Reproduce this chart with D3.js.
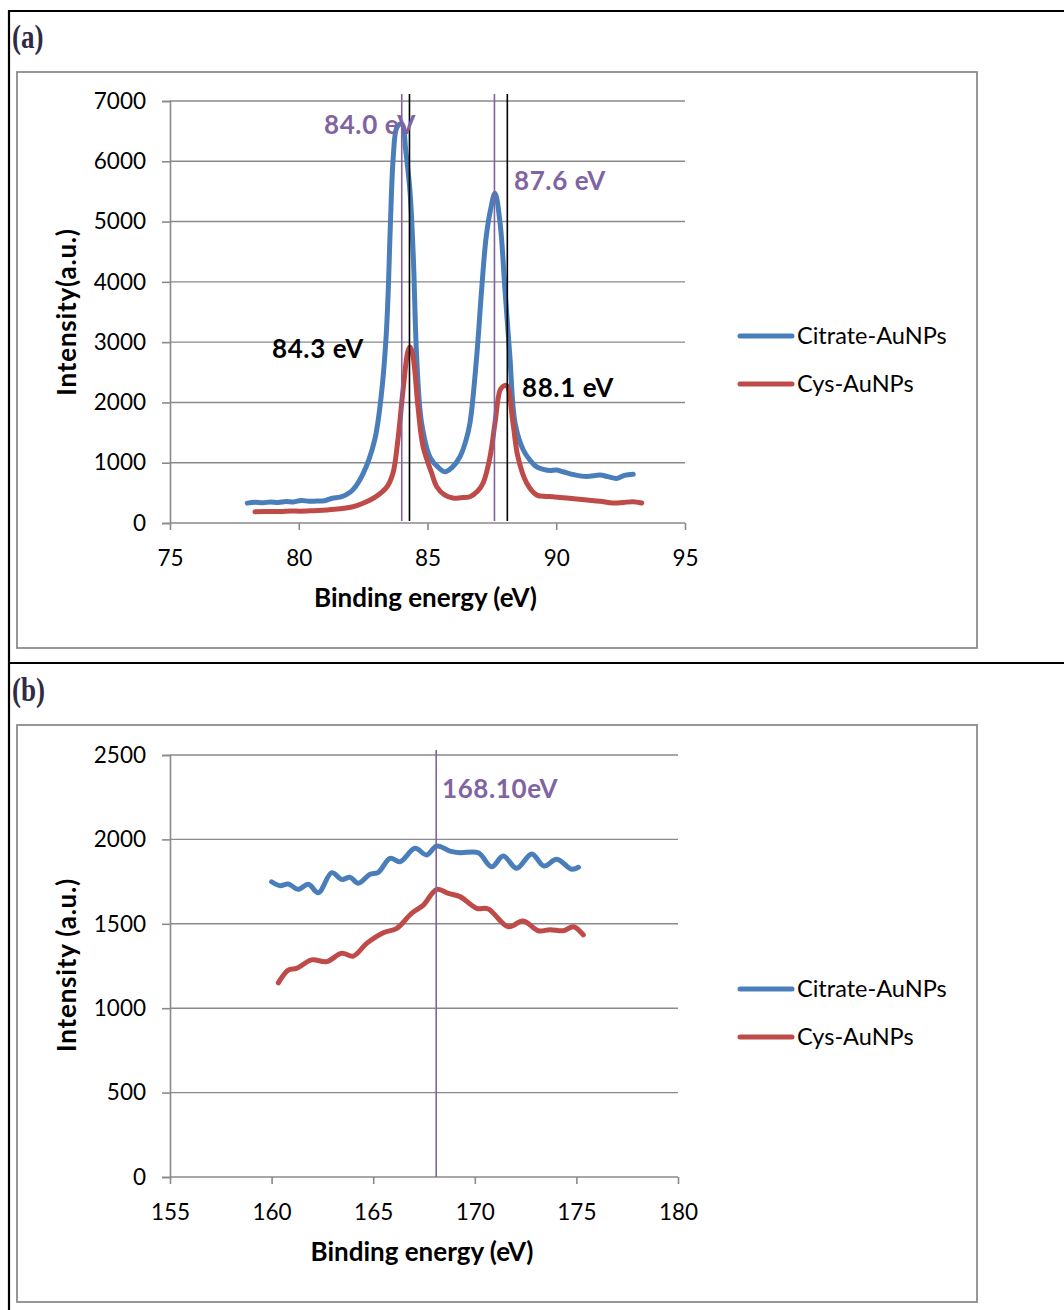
<!DOCTYPE html>
<html>
<head>
<meta charset="utf-8">
<script src="https://cdn.jsdelivr.net/npm/d3@7"></script>
<style>
  body { margin: 0; background: #fff; }
  svg { display: block; }
  text { font-family: Lato, "Open Sans", sans-serif; }
</style>
</head>
<body>
<svg id="chart" width="1064" height="1310"></svg>
<script>
// ---- panel (a): Au 4f ----
const auCitrate = [
  [78.0, 330], [78.3, 345], [78.6, 335], [78.9, 350], [79.2, 340], [79.5, 355],
  [79.8, 350], [80.1, 375], [80.4, 360], [80.7, 365], [81.0, 370], [81.3, 410],
  [81.6, 430], [81.85, 470], [82.1, 550], [82.5, 820], [82.95, 1380], [83.2, 2100],
  [83.38, 3000], [83.48, 3900], [83.56, 4970], [83.67, 6070], [83.8, 6550],
  [83.95, 6620], [84.04, 6600], [84.15, 6200], [84.32, 5500], [84.45, 4400],
  [84.58, 2750], [84.77, 1660], [85.1, 1090], [85.4, 930], [85.68, 850],
  [85.95, 920], [86.26, 1100], [86.48, 1350], [86.65, 1660], [86.91, 2760],
  [87.1, 3860], [87.28, 4750], [87.45, 5200], [87.62, 5470], [87.82, 4970],
  [88.01, 3860], [88.2, 2760], [88.4, 1660], [88.72, 1210], [89.0, 1030],
  [89.24, 930], [89.5, 890], [89.76, 870], [90.0, 880], [90.27, 850],
  [90.7, 800], [91.18, 770], [91.7, 795], [92.0, 770], [92.35, 740],
  [92.65, 790], [92.99, 808]
];
const auCys = [
  [78.3, 185], [78.7, 190], [79.27, 190], [79.7, 200], [80.05, 195], [80.6, 205],
  [81.1, 216], [81.6, 235], [82.1, 270], [82.45, 320], [82.77, 381], [83.1, 470],
  [83.43, 602], [83.66, 830], [83.85, 1376], [84.05, 2205], [84.24, 2850],
  [84.32, 2920], [84.44, 2758], [84.63, 1929], [84.83, 1265], [85.16, 829],
  [85.36, 602], [85.65, 470], [85.99, 414], [86.3, 420], [86.65, 436],
  [86.95, 530], [87.16, 663], [87.43, 1100], [87.62, 1658], [87.82, 2205],
  [87.95, 2270], [88.08, 2280], [88.32, 1658], [88.51, 1100], [88.85, 663],
  [89.24, 464], [89.6, 440], [89.87, 436], [90.5, 410], [91.19, 381],
  [91.7, 360], [92.2, 331], [92.6, 340], [92.98, 353], [93.32, 331]
];
const markersA = [
  { x: 84.0, color: "#8064A2" }, { x: 84.3, color: "#000" },
  { x: 87.6, color: "#8064A2" }, { x: 88.1, color: "#000" }
];
const notesA = [
  { text: "84.0 eV", x: 324, y: 134, color: "#8064A2" },
  { text: "87.6 eV", x: 514, y: 190, color: "#8064A2" },
  { text: "84.3 eV", x: 272, y: 358, color: "#000" },
  { text: "88.1 eV", x: 522, y: 397, color: "#000" }
];

// ---- panel (b): S 2p ----
const sCitrate = [
  [160.0, 1749], [160.41, 1726], [160.82, 1736], [161.31, 1704], [161.81, 1734],
  [162.3, 1684], [162.96, 1803], [163.45, 1763], [163.86, 1775], [164.27, 1740],
  [164.84, 1793], [165.25, 1805], [165.83, 1888], [166.32, 1868], [167.06, 1947],
  [167.63, 1908], [168.13, 1961], [168.78, 1931], [169.27, 1921], [170.17, 1921],
  [170.83, 1838], [171.4, 1901], [172.06, 1829], [172.8, 1914], [173.4, 1842],
  [174.03, 1882], [174.77, 1823], [175.1, 1835]
];
const sCys = [
  [160.33, 1150], [160.82, 1226], [161.23, 1236], [161.97, 1286], [162.71, 1276],
  [163.45, 1325], [164.02, 1309], [164.68, 1384], [165.5, 1447], [166.16, 1473],
  [166.89, 1562], [167.47, 1611], [168.13, 1704], [168.7, 1680], [169.27, 1661],
  [170.09, 1592], [170.66, 1588], [171.64, 1483], [172.38, 1517], [173.12, 1459],
  [173.7, 1465], [174.36, 1459], [174.85, 1483], [175.34, 1434]
];
const markersB = [{ x: 168.1, color: "#8064A2" }];
const notesB = [{ text: "168.10eV", x: 442, y: 798, color: "#8064A2" }];

const seriesNames = ["Citrate-AuNPs", "Cys-AuNPs"];
const seriesColors = ["#4A7EBB", "#BE4B48"];

const svg = d3.select("#chart");

// table frame around the two figure cells
const frame = svg.append("g").attr("stroke", "#000").attr("stroke-width", 2.2);
frame.append("line").attr("x1", 9).attr("x2", 1064).attr("y1", 11).attr("y2", 11);
frame.append("line").attr("x1", 9).attr("x2", 9).attr("y1", 10).attr("y2", 1310);
frame.append("line").attr("x1", 9).attr("x2", 1064).attr("y1", 663).attr("y2", 663);

function drawPanel(p) {
  const g = svg.append("g");

  g.append("text")
    .attr("transform", `translate(12,${p.tagY}) scale(0.82,1)`)
    .attr("fill", "#2f2a45")
    .style("font-family", "'Liberation Serif', serif")
    .style("font-weight", "bold")
    .style("font-size", "33px")
    .text(p.tag);

  // chart area box
  g.append("rect")
    .attr("x", p.box[0]).attr("y", p.box[1])
    .attr("width", p.box[2]).attr("height", p.box[3])
    .attr("fill", "#fff").attr("stroke", "#8c8c8c").attr("stroke-width", 1.8);

  const x = d3.scaleLinear().domain(p.xDomain).range([p.left, p.right]);
  const y = d3.scaleLinear().domain(p.yDomain).range([p.bottom, p.top]);

  const yTicks = d3.range(p.yDomain[0], p.yDomain[1] + 1, p.yStep);
  const xTicks = d3.range(p.xDomain[0], p.xDomain[1] + 1, 5);

  // gridlines
  g.append("g")
    .selectAll("line").data(yTicks.slice(1)).join("line")
    .attr("x1", p.left).attr("x2", p.right)
    .attr("y1", d => y(d)).attr("y2", d => y(d))
    .attr("stroke", "#8a8a8a").attr("stroke-width", 1.4);

  const yAxis = g.append("g")
    .attr("transform", `translate(${p.left},0)`)
    .call(d3.axisLeft(y).tickValues(yTicks).tickSize(8).tickPadding(16).tickFormat(d3.format("d")));
  const xAxis = g.append("g")
    .attr("transform", `translate(0,${p.bottom})`)
    .call(d3.axisBottom(x).tickValues(xTicks).tickSize(7).tickPadding(20).tickFormat(d3.format("d")));

  [yAxis, xAxis].forEach(a => {
    a.select(".domain").attr("stroke", "#8a8a8a").attr("stroke-width", 1.6);
    a.selectAll(".tick line").attr("stroke", "#8a8a8a").attr("stroke-width", 1.6);
    a.selectAll("text").attr("fill", "#000")
      .style("font-family", "Lato, sans-serif").style("font-size", "22.5px");
  });
  xAxis.select(".domain").attr("d", `M${p.left},0H${p.right}`);

  // axis titles
  g.append("text")
    .attr("x", (p.left + p.right) / 2 - 2).attr("y", p.bottom + 84)
    .attr("text-anchor", "middle")
    .style("font-weight", "bold").style("font-size", "26px")
    .text("Binding energy (eV)");
  g.append("text")
    .attr("transform", `translate(${p.yTitleX},${p.yTitleY}) rotate(-90)`)
    .attr("text-anchor", "middle")
    .style("font-weight", "bold").style("font-size", "26px")
    .style("letter-spacing", "0.8px")
    .text(p.yTitle);

  // series
  const line = d3.line()
    .x(d => x(d[0])).y(d => y(d[1]))
    .curve(d3.curveCatmullRom.alpha(0.5));
  p.series.forEach((s, i) => {
    g.append("path")
      .datum(s)
      .attr("fill", "none")
      .attr("stroke", seriesColors[i])
      .attr("stroke-width", 5)
      .attr("stroke-linecap", "round")
      .attr("stroke-linejoin", "round")
      .attr("d", line);
  });

  // peak markers
  g.append("g")
    .selectAll("line").data(p.markers).join("line")
    .attr("x1", d => x(d.x)).attr("x2", d => x(d.x))
    .attr("y1", p.markTop).attr("y2", p.markBottom)
    .attr("stroke", d => d.color).attr("stroke-width", 1.6);

  g.append("g")
    .selectAll("text").data(p.notes).join("text")
    .attr("x", d => d.x).attr("y", d => d.y)
    .attr("fill", d => d.color)
    .style("font-weight", "bold").style("font-size", "26px")
    .style("letter-spacing", "0.6px")
    .text(d => d.text);

  // legend
  const lg = g.append("g").attr("transform", `translate(740,${p.legendY})`);
  seriesNames.forEach((name, i) => {
    const row = lg.append("g").attr("transform", `translate(0,${i * 48})`);
    row.append("line").attr("x1", 0).attr("x2", 52).attr("y1", 0).attr("y2", 0)
      .attr("stroke", seriesColors[i]).attr("stroke-width", 5).attr("stroke-linecap", "round");
    row.append("text").attr("x", 57).attr("y", 8)
      .style("font-size", "23.5px").attr("fill", "#000").text(name);
  });
}

drawPanel({
  tag: "(a)", tagY: 48,
  box: [17, 72, 960, 576],
  left: 170, right: 685, top: 101, bottom: 523,
  xDomain: [75, 95], yDomain: [0, 7000], yStep: 1000,
  yTitle: "Intensity(a.u.)", yTitleX: 76, yTitleY: 312,
  series: [auCitrate, auCys],
  markers: markersA, markTop: 94, markBottom: 521,
  notes: notesA,
  legendY: 336
});

drawPanel({
  tag: "(b)", tagY: 701,
  box: [17, 725, 960, 577],
  left: 170, right: 678, top: 755, bottom: 1177,
  xDomain: [155, 180], yDomain: [0, 2500], yStep: 500,
  yTitle: "Intensity (a.u.)", yTitleX: 76, yTitleY: 965,
  series: [sCitrate, sCys],
  markers: markersB, markTop: 750, markBottom: 1177,
  notes: notesB,
  legendY: 989
});
</script>
</body>
</html>
